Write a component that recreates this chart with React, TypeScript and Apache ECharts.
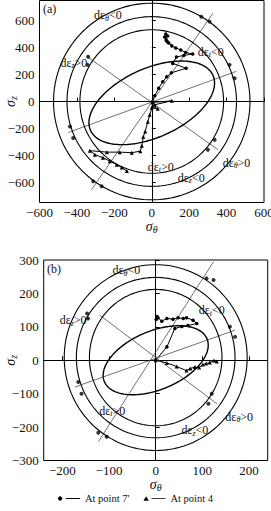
import React, { useEffect, useRef } from 'react';
import * as echarts from 'echarts';

const FONT = '"Liberation Serif", "DejaVu Serif", serif';

// ---------- chart (a) ----------
const aYTicks = [-600, -400, -200, 0, 200, 400, 600];
// circles: [cx, cy, ax, ay, bx, by] (conjugate semi-diameters)
const aCircles = [
  [0, 0, 525, 0, 0, 730],
  [0, 0, 453, 0, 0, 630],
  [0, 0, 384, 0, 0, 533],
];
const aEllipse = [[0, -10, 327, 205, 76, -233]];
const aLines = [
  [[-322, -655], [327, 656]],
  [[-446, -230], [452, 224]],
  [[-345, 333], [354, -358]],
];
const aPoint7 = [
  [3, -2], [16, 42], [37, 99], [59, 146], [80, 183], [105, 213], [184, 247], [112, 283],
  [132, 331], [171, 342], [219, 353], [181, 364], [155, 383], [128, 398], [107, 413],
  [91, 435], [80, 450], [69, 479], [75, 501], [85, 487], [77, 457], [85, 442],
];
const aPoint4 = [
  [4, -7], [107, 5], [16, -24], [0, -47], [32, -54], [5, -32], [-11, -99], [-21, -150],
  [-35, -222], [-45, -261], [-53, -328], [-61, -369], [-107, -380], [-171, -376],
  [-240, -376], [-331, -365], [-304, -395], [-261, -417], [-224, -443], [-187, -469],
  [-160, -491], [-133, -517],
];
const aArrows = [
  [265, 630], [309, 593], [416, 272], [443, 173], [-340, 333], [-343, 272],
  [-437, -185], [-420, -271], [-313, -593], [-268, -630], [300, -358], [336, -284],
];
const aLabelPos = [[-235, 642], [315, 368], [-416, 287], [48, -484], [211, -565], [453, -454]];
const aLabelSub = ['θ', 't', 'z', 't', 'z', 'θ'];
const aLabelSign = ['<0', '<0', '>0', '>0', '<0', '>0'];

// ---------- chart (b) ----------
const bXTicks = [-200, -100, 0, 100, 200];
const bCircles = [
  [0, 8, 196, 0, 0, 278],
  [0, 8, 170, 0, 0, 240],
  [0, 8, 142, 0, 0, 204],
];
const bEllipse = [[0, 0, 110, 64, 24, -81]];
const bLines = [
  [[-123, -244], [124, 295]],
  [[-173, -80], [170, 90]],
  [[-120, 135], [131, -130]],
];
const bPoint7 = [
  [0, 0], [24, 40], [41, 95], [56, 101], [69, 104], [88, 110], [80, 120], [66, 127],
  [59, 125], [48, 127], [37, 123], [24, 125], [13, 117], [5, 127], [1, 122], [3, 131],
];
const bPoint4 = [
  [0, 0], [24, -8], [45, -19], [66, -31], [74, -25], [84, -20], [93, -22], [101, -13],
  [108, -10], [116, -7], [125, -1], [131, -4],
];
const bArrows = [
  [109, 245], [124, 240], [159, 100], [170, 70], [-147, 140], [-145, 125],
  [-166, -65], [-159, -100], [120, -100], [113, -130], [-123, -217], [-105, -229],
];
const bLabelPos = [[-63, 269], [120, 149], [-177, 119], [-93, -151], [84, -210], [179, -169]];
const bLabelSub = ['θ', 't', 'z', 't', 'z', 'θ'];
const bLabelSign = ['<0', '<0', '>0', '>0', '<0', '>0'];

const seriesNames = ["At point 7'", 'At point 4'];

const fmt = (v: number) => (v < 0 ? '\u2212' + Math.abs(v) : String(v));

const ellipseRender = (width: number) => (params: any, api: any) => {
  const cx = api.value(0), cy = api.value(1), ax = api.value(2), ay = api.value(3), bx = api.value(4), by = api.value(5);
  const pts: number[][] = [];
  const N = 160;
  for (let i = 0; i <= N; i++) {
    const t = (2 * Math.PI * i) / N;
    pts.push(api.coord([cx + ax * Math.cos(t) + bx * Math.sin(t), cy + ay * Math.cos(t) + by * Math.sin(t)]));
  }
  return { type: 'polyline', shape: { points: pts }, style: { stroke: '#000', fill: null, lineWidth: width } };
};

function buildSeries(idx: number, circles: number[][], ellipse: number[][], lines: number[][][],
  p7: number[][], p4: number[][], arrows: number[][]) {
  const s: any[] = [];
  s.push({ type: 'custom', xAxisIndex: idx, yAxisIndex: idx, data: circles, renderItem: ellipseRender(1.1), silent: true, z: 2 });
  s.push({ type: 'custom', xAxisIndex: idx, yAxisIndex: idx, data: ellipse, renderItem: ellipseRender(1.4), silent: true, z: 2 });
  lines.forEach((ln) => {
    s.push({ type: 'line', xAxisIndex: idx, yAxisIndex: idx, data: ln, showSymbol: false, silent: true,
      lineStyle: { color: '#333', width: 0.7 }, z: 1 });
  });
  s.push({ type: 'line', name: seriesNames[0], xAxisIndex: idx, yAxisIndex: idx, data: p7, symbol: 'circle', symbolSize: 3.5,
    showSymbol: true, itemStyle: { color: '#000' }, lineStyle: { color: '#000', width: 1 }, z: 4 });
  s.push({ type: 'line', name: seriesNames[1], xAxisIndex: idx, yAxisIndex: idx, data: p4, symbol: 'triangle', symbolSize: 4,
    showSymbol: true, itemStyle: { color: '#000' }, lineStyle: { color: '#000', width: 1 }, z: 4 });
  s.push({ type: 'scatter', xAxisIndex: idx, yAxisIndex: idx, data: arrows, symbol: 'circle', symbolSize: 4,
    itemStyle: { color: '#000' }, silent: true, z: 3 });
  return s;
}

const axisCommon = {
  axisLine: { lineStyle: { color: '#000', width: 1 } },
  axisTick: { inside: true, length: 4, lineStyle: { color: '#000' } },
  splitLine: { show: false },
};

const labelStyle = { fontFamily: FONT, fontSize: 13, color: '#111', formatter: fmt };
const nameRichX = { i: { fontFamily: FONT, fontSize: 14, fontStyle: 'italic', color: '#111' }, s: { fontFamily: FONT, fontSize: 10, fontStyle: 'italic', color: '#111', padding: [6, 0, 0, 0] } };

const gRich = {
  d: { fill: '#111', fontFamily: FONT, fontSize: 12 },
  s: { fill: '#111', fontFamily: FONT, fontSize: 8, fontStyle: 'italic', padding: [6, 0, 0, 0] },
};
const gNameRich = {
  i: { fill: '#111', fontFamily: FONT, fontSize: 14, fontStyle: 'italic' },
  s: { fill: '#111', fontFamily: FONT, fontSize: 10, fontStyle: 'italic', padding: [6, 0, 0, 0] },
};

export default function App() {
  const ref = useRef<HTMLDivElement>(null);
  useEffect(() => {
    const chart = echarts.init(ref.current!, null, { renderer: 'svg' });
    const option: any = {
      animation: false,
      grid: [
        { left: 39.5, top: 0.5, width: 224.5, height: 202, show: true, borderColor: '#000', borderWidth: 1,
          containLabel: false, outerBoundsMode: 'none' },
        { left: 43.7, top: 260, width: 224, height: 200.5, show: true, borderColor: '#000', borderWidth: 1,
          containLabel: false, outerBoundsMode: 'none' },
      ],
      xAxis: [
        { ...axisCommon, gridIndex: 0, type: 'value', min: -600, max: 600, interval: 200,
          axisLabel: { ...labelStyle, margin: 3 },
          name: '{i|σ}{s|θ}', nameLocation: 'middle', nameGap: 12, nameTextStyle: { rich: nameRichX } },
        { ...axisCommon, gridIndex: 1, type: 'value', min: -240, max: 240,
          axisTick: { ...axisCommon.axisTick, customValues: bXTicks },
          axisLabel: { ...labelStyle, margin: 3, customValues: bXTicks },
          name: '{i|σ}{s|θ}', nameLocation: 'middle', nameGap: 11, nameTextStyle: { rich: nameRichX } },
      ],
      yAxis: [
        { ...axisCommon, gridIndex: 0, type: 'value', min: -750, max: 750,
          axisTick: { ...axisCommon.axisTick, customValues: aYTicks },
          axisLabel: { ...labelStyle, margin: 5, customValues: aYTicks } },
        { ...axisCommon, gridIndex: 1, type: 'value', min: -300, max: 300, interval: 100,
          axisLabel: { ...labelStyle, margin: 5 } },
      ],
      legend: {
        top: 488, left: 'center', itemGap: 14, itemWidth: 22, itemHeight: 6,
        textStyle: { fontFamily: FONT, fontSize: 10.5, color: '#111' },
        data: [
          { name: seriesNames[0], icon: 'path://M1,2.5L2.5,1L3.5,1L5,2.5L5,3.5L3.5,5L2.5,5L1,3.5zM8,2.6h13v0.8h-13z' },
          { name: seriesNames[1], icon: 'path://M0.5,5L3,0.8L5.5,5zM8,2.6h13v0.8h-13z' },
        ],
      },
      series: [
        ...buildSeries(0, aCircles, aEllipse, aLines, aPoint7, aPoint4, aArrows),
        ...buildSeries(1, bCircles, bEllipse, bLines, bPoint7, bPoint4, bArrows),
      ],
    };
    chart.setOption(option);

    const texts: any[] = [
      { type: 'text', left: 43, top: 3, z: 10, style: { text: '(a)', font: `12px ${FONT}`, fill: '#111' } },
      { type: 'text', left: 47, top: 263, z: 10, style: { text: '(b)', font: `12px ${FONT}`, fill: '#111' } },
    ];
    [0, 1].forEach((gi) => {
      const c = chart.convertToPixel({ gridIndex: gi }, [0, 0]) as number[];
      texts.push({
        type: 'text', x: 10, y: c[1], rotation: Math.PI / 2, z: 10,
        style: { text: '{i|σ}{s|z}', rich: gNameRich, align: 'center', verticalAlign: 'middle', fill: '#111' },
      });
    });
    const addLabels = (gi: number, pos: number[][], sub: string[], sign: string[]) => {
      pos.forEach((p, i) => {
        const px = chart.convertToPixel({ gridIndex: gi }, p) as number[];
        texts.push({
          type: 'text', x: px[0], y: px[1], z: 10,
          style: {
            text: `{d|dε}{s|${sub[i]}}{d|${sign[i]}}`, rich: gRich,
            align: 'center', verticalAlign: 'middle', fill: '#111',
          },
        });
      });
    };
    addLabels(0, aLabelPos, aLabelSub, aLabelSign);
    addLabels(1, bLabelPos, bLabelSub, bLabelSign);
    chart.setOption({ graphic: texts });

    return () => chart.dispose();
  }, []);
  return <div ref={ref} style={{ position: 'absolute', left: 0, top: 0, width: 271, height: 511 }} />;
}
